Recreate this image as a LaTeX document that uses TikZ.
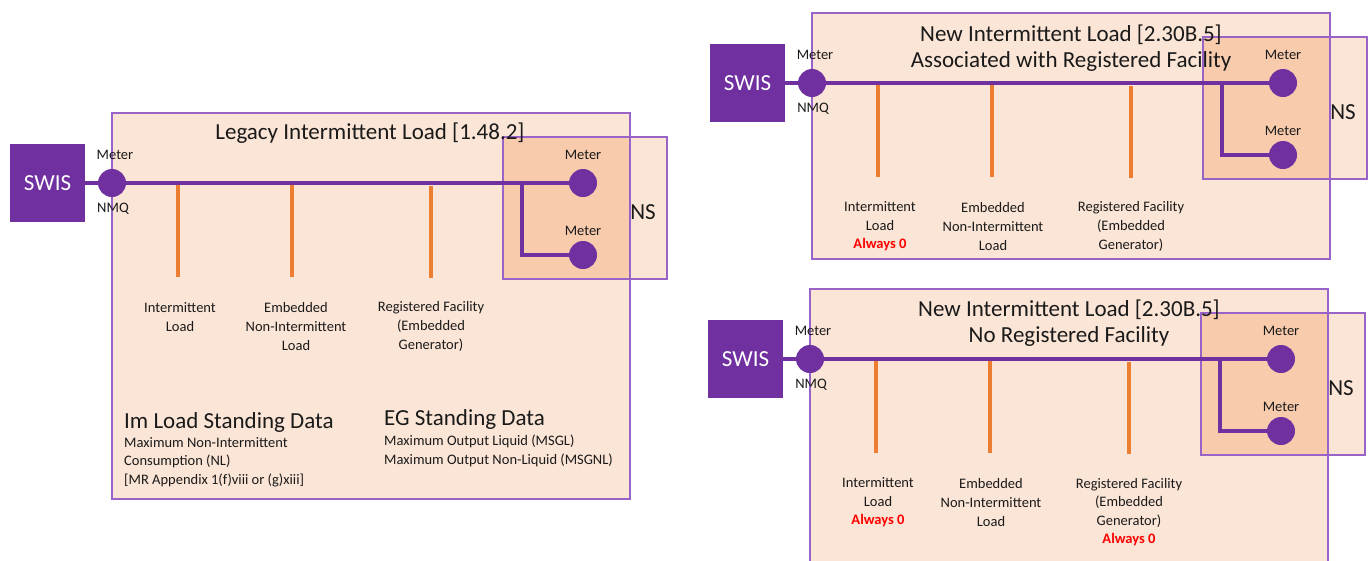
\documentclass[tikz,border=0pt]{standalone}
\usepackage{fontspec}
\setmainfont{Carlito}
\definecolor{purp}{HTML}{7030A0}
\definecolor{boxedge}{HTML}{9A63C8}
\definecolor{peach}{HTML}{FBE5D6}
\definecolor{peachdark}{HTML}{F8CBAD}
\definecolor{orng}{HTML}{ED7D31}
\definecolor{txt}{HTML}{1A1A1A}
\newcommand{\smallf}{\fontsize{14.5}{18.6}\selectfont}
\newcommand{\bigf}{\fontsize{23}{26}\selectfont}
\tikzset{
  boxline/.style={draw=boxedge, line width=1.6pt},
  swisbox/.style={rectangle, fill=purp, text=white, minimum width=75, minimum height=78, inner sep=0pt, font=\bigf},
  meter/.style={circle, fill=purp, minimum size=28, inner sep=0pt},
  wire/.style={draw=purp, line width=4.5pt},
  tap/.style={draw=orng, line width=3.2pt},
  lbl/.style={inner sep=0pt, font=\smallf, text=txt, align=center},
  ttl/.style={inner sep=0pt, font=\bigf, text=txt, align=center},
}
\newcommand{\panel}[4]{%
\begin{scope}[shift={(#2,#3)}]
  \fill[peach] (112,-70) rectangle (630,#4);
  \fill[peach] (503,-46) rectangle (667,96);
  \begin{scope}
    \clip (112,-70) rectangle (630,#4);
    \fill[peachdark] (503,-46) rectangle (667,96);
  \end{scope}
  \draw[boxline] (112,-70) rectangle (630,#4);
  \draw[boxline] (503,-46) rectangle (667,96);
  \node[swisbox] (#1swis) at (47.5,0) {SWIS};
  \node[meter] (#1m0) at (112,0) {};
  \node[meter] (#1m1) at (583,0) {};
  \node[meter] (#1m2) at (583,72) {};
  \node[lbl] (#1m0t) at (115,-28) {Meter};
  \node[lbl] (#1m0b) at (113,26) {NMQ};
  \node[lbl] (#1m1t) at (583,-28) {Meter};
  \node[lbl] (#1m2t) at (583,48) {Meter};
  \node[ttl] (#1ns) at (643,29) {NS};
  \coordinate (#1t1) at (178,0);
  \coordinate (#1t1e) at (178,94);
  \coordinate (#1t2) at (292,0);
  \coordinate (#1t2e) at (292,94);
  \coordinate (#1t3) at (431,3);
  \coordinate (#1t3e) at (431,95);
  \coordinate (#1br) at (522,0);
  \draw[tap] (#1t1) -- (#1t1e);
  \draw[tap] (#1t2) -- (#1t2e);
  \draw[tap] (#1t3) -- (#1t3e);
  \draw[wire] (#1swis) -- (#1m0) -- (#1m1);
  \draw[wire] (#1br) |- (#1m2);
\end{scope}}
\begin{document}
\begin{tikzpicture}[x=1pt,y=-1pt]
\useasboundingbox (0,0) rectangle (1372,560);
\fill[white] (0,0) rectangle (1372,560);
% left panel
\panel{a}{0}{183}{316}
\node[ttl] (atitle) at (370,133) {Legacy Intermittent Load [1.48.2]};
\node[lbl] (al1) at (180,317) {Intermittent\\Load};
\node[lbl] (al2) at (296,326.5) {Embedded\\Non-Intermittent\\Load};
\node[lbl] (al3) at (431,326.5) {Registered Facility\\(Embedded\\Generator)};
\node[ttl, anchor=west] (asd1) at (124,422) {Im Load Standing Data};
\node[lbl, anchor=west, align=left] (asd1t) at (124,462) {Maximum Non-Intermittent\\Consumption (NL)\\{}[MR Appendix 1(f)viii or (g)xiii]};
\node[ttl, anchor=west] (asd2) at (384,419) {EG Standing Data};
\node[lbl, anchor=west, align=left] (asd2t) at (384,451) {Maximum Output Liquid (MSGL)\\Maximum Output Non-Liquid (MSGNL)};
% top right panel
\panel{b}{700}{83}{176}
\node[ttl] (btitle) at (1071,48) {New Intermittent Load [2.30B.5]\\Associated with Registered Facility};
\node[lbl] (bl1) at (880,226.5) {Intermittent\\Load\\{\bfseries\color{red}Always 0}};
\node[lbl] (bl2) at (993,226.5) {Embedded\\Non-Intermittent\\Load};
\node[lbl] (bl3) at (1131,226.5) {Registered Facility\\(Embedded\\Generator)};
% bottom right panel
\panel{c}{698}{359}{215}
\node[ttl] (ctitle) at (1069,323) {New Intermittent Load [2.30B.5]\\No Registered Facility};
\node[lbl] (cl1) at (878,502.5) {Intermittent\\Load\\{\bfseries\color{red}Always 0}};
\node[lbl] (cl2) at (991,502.5) {Embedded\\Non-Intermittent\\Load};
\node[lbl] (cl3) at (1129,512) {Registered Facility\\(Embedded\\Generator)\\{\bfseries\color{red}Always 0}};
\end{tikzpicture}
\end{document}
